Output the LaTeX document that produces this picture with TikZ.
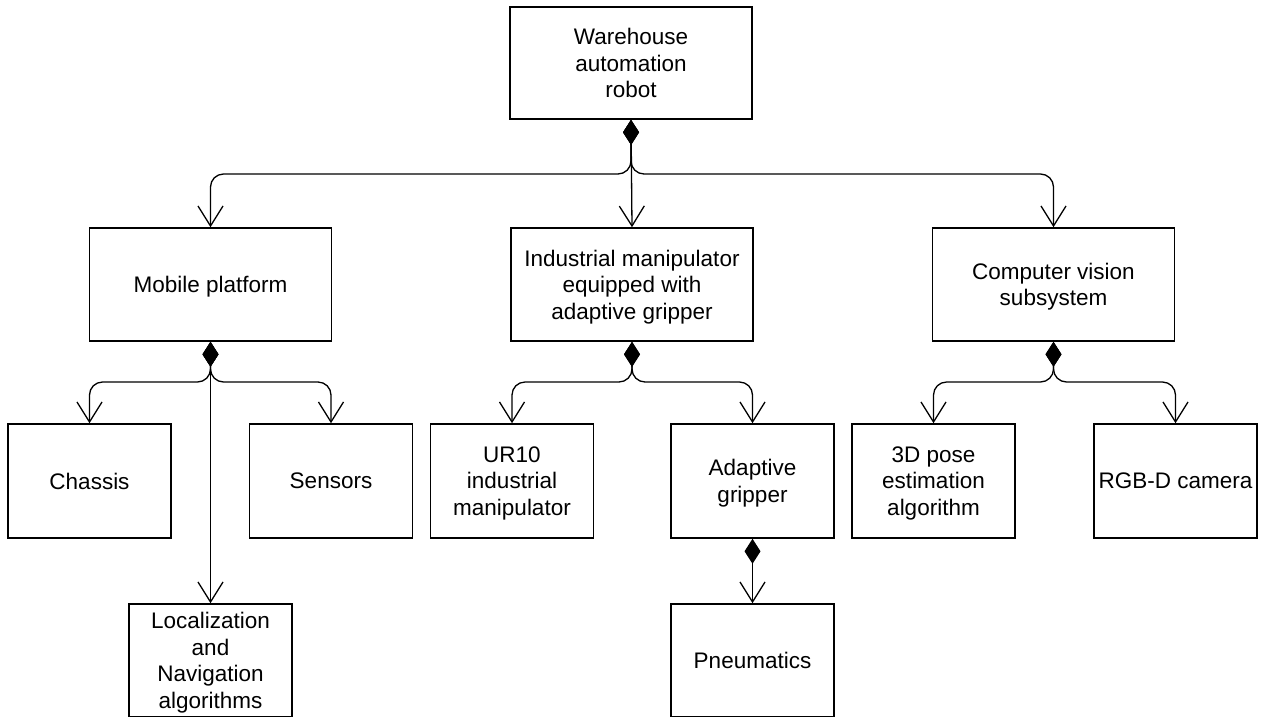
\documentclass[tikz,border=0pt]{standalone}
\usepackage{fontspec}
\setmainfont{Liberation Sans}
\usetikzlibrary{arrows.meta}

\tikzset{
  box/.style={draw=black, line width=1.6pt, fill=white, inner sep=0pt,
    align=center, text depth=0pt, font=\fontsize{22.5}{26.5}\selectfont},
  big/.style={box, minimum width=242pt, minimum height=113pt},
  small/.style={box, minimum width=163pt, minimum height=114pt},
  comp/.style={draw=black, line width=1.3pt, rounded corners=13pt,
    {Diamond[length=25pt,width=16pt]}-{Straight Barb[length=20pt,width=25pt]}},
}

\begin{document}
\begin{tikzpicture}[x=1pt,y=-1pt]
\useasboundingbox (0,0) rectangle (1268,716);

% top level
\node[big, minimum height=112pt] (robot) at (631,63) {Warehouse\\automation\\robot};

% subsystems
\node[big] (mobile) at (210.5,284.5) {Mobile platform};
\node[big] (manip)  at (632,284.5)   {Industrial manipulator\\equipped with\\adaptive gripper};
\node[big] (vision) at (1053.5,284.5) {Computer vision\\subsystem};

% components
\node[small] (chassis) at (89.5,481)  {Chassis};
\node[small] (sensors) at (331,481)   {Sensors};
\node[small] (ur10)    at (512,481)   {UR10\\industrial\\manipulator};
\node[small] (gripper) at (752.5,481) {Adaptive\\gripper};
\node[small] (pose)    at (933.5,481) {3D pose\\estimation\\algorithm};
\node[small] (camera)  at (1175.5,481) {RGB-D camera};

\node[small, minimum height=113pt] (loc)   at (210.5,660.5) {Localization\\and\\Navigation\\algorithms};
\node[small, minimum height=113pt] (pneum) at (752.5,660.5) {Pneumatics};

% branch points of the composition trees
\coordinate (h0) at (631,174);
\coordinate (h1) at (210.5,382);
\coordinate (h2) at (632,382);
\coordinate (h3) at (1053.5,382);

% robot composition
\draw[comp] (robot.south) -- (h0) -| (mobile.north);
\draw[comp] (robot.south) -- (h0) -| (vision.north);
\draw[comp] (robot.south) -- (manip.north);

% mobile platform composition
\draw[comp] (mobile.south) -- (h1) -| (chassis.north);
\draw[comp] (mobile.south) -- (h1) -| (sensors.north);
\draw[comp] (mobile.south) -- (loc.north);

% manipulator composition
\draw[comp] (manip.south) -- (h2) -| (ur10.north);
\draw[comp] (manip.south) -- (h2) -| (gripper.north);
\draw[comp] (gripper.south) -- (pneum.north);

% vision composition
\draw[comp] (vision.south) -- (h3) -| (pose.north);
\draw[comp] (vision.south) -- (h3) -| (camera.north);
\end{tikzpicture}
\end{document}
